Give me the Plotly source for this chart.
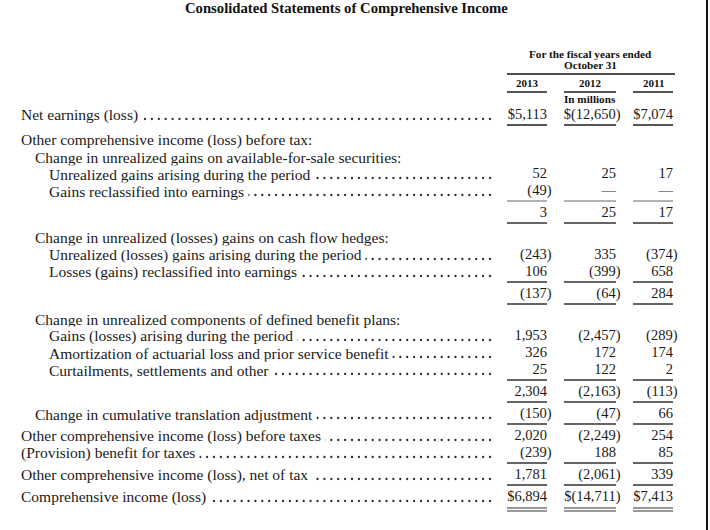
import plotly.graph_objects as go

# statement rows (values in $ millions, None = no figure, 0 = dash)
labels = [
    "Net earnings (loss)",
    "Other comprehensive income (loss) before tax:",
    "Change in unrealized gains on available-for-sale securities:",
    "Unrealized gains arising during the period",
    "Gains reclassified into earnings",
    "",
    "Change in unrealized (losses) gains on cash flow hedges:",
    "Unrealized (losses) gains arising during the period",
    "Losses (gains) reclassified into earnings",
    "",
    "Change in unrealized components of defined benefit plans:",
    "Gains (losses) arising during the period",
    "Amortization of actuarial loss and prior service benefit",
    "Curtailments, settlements and other",
    "",
    "Change in cumulative translation adjustment",
    "Other comprehensive income (loss) before taxes",
    "(Provision) benefit for taxes",
    "Other comprehensive income (loss), net of tax",
    "Comprehensive income (loss)",
]
indent = [0, 0, 1, 2, 2, 0, 1, 2, 2, 0, 1, 2, 2, 2, 0, 1, 0, 0, 0, 0]
leader = [1, 0, 0, 1, 1, 0, 0, 1, 1, 0, 0, 1, 1, 1, 0, 1, 1, 1, 1, 1]
dollar = [1, 0, 0, 0, 0, 0, 0, 0, 0, 0, 0, 0, 0, 0, 0, 0, 0, 0, 0, 1]

years = ["2013", "2012", "2011"]
v2013 = [5113, None, None, 52, -49, 3, None, -243, 106, -137, None,
         1953, 326, 25, 2304, -150, 2020, -239, 1781, 6894]
v2012 = [-12650, None, None, 25, 0, 25, None, 335, -399, -64, None,
         -2457, 172, 122, -2163, -47, -2249, 188, -2061, -14711]
v2011 = [7074, None, None, 17, 0, 17, None, -374, 658, 284, None,
         -289, 174, 2, -113, 66, 254, 85, 339, 7413]

# rule under a row: 1 = dark, 2 = light, 3 = double
rule_below = [1, 0, 0, 0, 2, 1, 0, 0, 1, 1, 0, 0, 0, 1, 1, 1, 0, 1, 1, 3]
section_start = [0, 1, 0, 0, 0, 0, 1, 0, 0, 0, 1, 0, 0, 0, 0, 0, 0, 0, 0, 0]

SERIF = "Liberation Serif"
INK = "#1a1a1a"

# layout in pixels
col_right = [547, 616, 673]
col_left = [507, 564, 633]
col_center = [527, 590, 653]
head_center = 590
indent_x = [20, 34, 48]
leader_end = 490

row_y = []
y = 115
for i in range(len(labels)):
    if i > 0:
        y += 17 + (5 if rule_below[i - 1] else 0) + 3 * section_start[i]
    row_y.append(y)


def fmt(v, with_dollar):
    if v == 0:
        return "\u2014"
    s = f"{abs(v):,}"
    if v < 0:
        s = f"({s})"
    return ("$" if with_dollar else "") + s


fig = go.Figure()

# dot leaders (covered by the white label boxes)
dx, dy = [], []
for i, lab in enumerate(labels):
    if not leader[i]:
        continue
    x0 = indent_x[indent[i]]
    xd = leader_end
    while xd > x0 + 4:
        dx.append(xd)
        dy.append(row_y[i] + 4)
        xd -= 6.9
fig.add_trace(go.Scatter(
    x=dx, y=dy, mode="markers",
    marker=dict(size=2.3, color="#2a2a2a", line_width=0),
    hoverinfo="skip", showlegend=False,
))

for c, vals in enumerate([v2013, v2012, v2011]):
    xs, ys, txt = [], [], []
    for i, v in enumerate(vals):
        if v is None:
            continue
        xs.append(col_right[c] + (4.5 if v < 0 else 0))
        ys.append(row_y[i])
        txt.append(fmt(v, dollar[i]))
    fig.add_trace(go.Scatter(
        x=xs, y=ys, text=txt, mode="text", textposition="middle left",
        textfont=dict(family=SERIF, size=14.5, color=INK),
        hoverinfo="skip", showlegend=False,
    ))

annotations = []
for i, lab in enumerate(labels):
    if not lab:
        continue
    annotations.append(dict(
        x=indent_x[indent[i]], y=row_y[i], xref="x", yref="y",
        text=lab + ("\u00a0" if leader[i] else ""),
        xanchor="left", yanchor="middle", showarrow=False,
        bgcolor="white", borderpad=0,
        font=dict(family=SERIF, size=15.5, color=INK),
    ))

# header
annotations.append(dict(
    x=346, y=8, xref="x", yref="y",
    text="<b>Consolidated Statements of Comprehensive Income</b>",
    showarrow=False, font=dict(family=SERIF, size=14.7, color="#111"),
))
for txt, yy in [("<b>For the fiscal years ended</b>", 54),
                ("<b>October 31</b>", 65), ("<b>In millions</b>", 99)]:
    annotations.append(dict(
        x=head_center, y=yy, xref="x", yref="y", text=txt, showarrow=False,
        font=dict(family=SERIF, size=11.2, color="#111"),
    ))
for c, yr in enumerate(years):
    annotations.append(dict(
        x=col_center[c], y=83, xref="x", yref="y", text=f"<b>{yr}</b>",
        showarrow=False, font=dict(family=SERIF, size=11, color="#111"),
    ))

shapes = [dict(type="line", x0=col_left[0], x1=675, y0=74, y1=74,
               xref="x", yref="y", line=dict(color="#111", width=1.5))]
for c in range(3):
    shapes.append(dict(type="line", x0=col_left[c], x1=col_right[c],
                       y0=92, y1=92, xref="x", yref="y",
                       line=dict(color="#555", width=2)))
    for i, r in enumerate(rule_below):
        if not r:
            continue
        ly = row_y[i] + 10
        if r == 3:
            for off in (1, 4):
                shapes.append(dict(type="line", x0=col_left[c], x1=col_right[c],
                                   y0=ly + off, y1=ly + off, xref="x", yref="y",
                                   line=dict(color="#333", width=1.2)))
        else:
            color = "#999" if r == 2 else ("#555" if i == 0 else "#333")
            shapes.append(dict(type="line", x0=col_left[c], x1=col_right[c],
                               y0=ly, y1=ly, xref="x", yref="y",
                               line=dict(color=color, width=2 if i == 0 else 1.3)))

# right frame edge
shapes.append(dict(type="line", x0=707, x1=707, y0=0, y1=530,
                   xref="x", yref="y", line=dict(color="#111", width=2)))

fig.update_layout(
    width=710, height=530,
    margin=dict(l=0, r=0, t=0, b=0),
    paper_bgcolor="white", plot_bgcolor="white",
    xaxis=dict(range=[0, 710], visible=False, fixedrange=True),
    yaxis=dict(range=[530, 0], visible=False, fixedrange=True),
    annotations=annotations, shapes=shapes,
)

fig.write_html("out.html",
               config={"displayModeBar": False},
               post_script="document.body.style.margin='0';"
                           "document.body.style.overflow='hidden';")
